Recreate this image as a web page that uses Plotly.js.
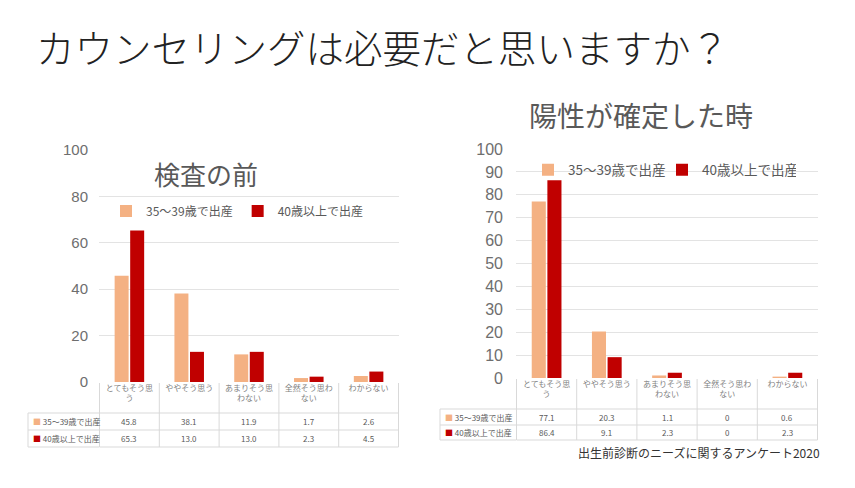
<!DOCTYPE html>
<html>
<head>
<meta charset="utf-8">
<script src="https://cdn.plot.ly/plotly-3.0.1.min.js"></script>
<style>html,body{margin:0;padding:0;background:#fff;}#chart{width:855px;height:488px;}</style>
</head>
<body>
<div id="chart"></div>
<script>
const categories = ['とてもそう思う','ややそう思う','あまりそう思わない','全然そう思わない','わからない'];
const tickLabels = ['とてもそう思<br>う','ややそう思う','あまりそう思<br>わない','全然そう思わ<br>ない','わからない'];
const seriesNames = ['35～39歳で出産','40歳以上で出産'];
const beforeYoung = [45.8, 38.1, 11.9, 1.7, 2.6];
const beforeOld = [65.3, 13.0, 13.0, 2.3, 4.5];
const positiveYoung = [77.1, 20.3, 1.1, 0, 0.6];
const positiveOld = [86.4, 9.1, 2.3, 0, 2.3];
const leftTicks = [0, 20, 40, 60, 80, 100];
const rightTicks = [0, 10, 20, 30, 40, 50, 60, 70, 80, 90, 100];

const mainTitle = 'カウンセリングは必要だと思いますか？';
const leftTitle = '検査の前';
const rightTitle = '陽性が確定した時';
const sourceText = '出生前診断のニーズに関するアンケート2020';

const ORANGE = '#F4B183', RED = '#C00000', GRAY = '#595959';
const FONT = '"Noto Sans CJK JP", "Noto Sans", sans-serif';
const W = 855, H = 488;
const px = x => x / W;
const py = y => 1 - y / H;

const traces = [
  {type:'bar', x:categories, y:beforeYoung, name:seriesNames[0], marker:{color:ORANGE}, xaxis:'x', yaxis:'y', legend:'legend', hoverinfo:'y'},
  {type:'bar', x:categories, y:beforeOld, name:seriesNames[1], marker:{color:RED}, xaxis:'x', yaxis:'y', legend:'legend', hoverinfo:'y'},
  {type:'bar', x:categories, y:positiveYoung, name:seriesNames[0], marker:{color:ORANGE}, xaxis:'x2', yaxis:'y2', legend:'legend2', hoverinfo:'y'},
  {type:'bar', x:categories, y:positiveOld, name:seriesNames[1], marker:{color:RED}, xaxis:'x2', yaxis:'y2', legend:'legend2', hoverinfo:'y'}
];

const fmt = v => v === 0 ? '0' : v.toFixed(1);
const annotations = [];
const shapes = [];
const LC = '#d9d9d9';

function addTable(xref, rows, rowYs, labelX, lineYs, topY, leftX, axisLeftX) {
  rows.forEach((r, ri) => {
    annotations.push({xref:'paper', yref:'paper', x:px(labelX), y:py(rowYs[ri]), xanchor:'left', yanchor:'middle', showarrow:false,
      text:'<span style="color:'+r.color+'">■</span> '+r.name, font:{family:FONT, size:8, color:GRAY}});
    categories.forEach((c, ci) => {
      annotations.push({xref:xref, yref:'paper', x:c, y:py(rowYs[ri]), xanchor:'center', yanchor:'middle', showarrow:false,
        text:fmt(r.values[ci]), font:{family:FONT, size:8, color:GRAY}});
    });
  });
  const last = lineYs[lineYs.length-1];
  lineYs.forEach(y => shapes.push({type:'line', xref:'paper', yref:'paper', x0:px(leftX), x1:px(axisLeftX), y0:py(y), y1:py(y), line:{color:LC, width:1}}));
  lineYs.forEach(y => shapes.push({type:'line', xref:xref, yref:'paper', x0:-0.5, x1:categories.length-0.5, y0:py(y), y1:py(y), line:{color:LC, width:1}}));
  for (let i = 0; i <= categories.length; i++) {
    shapes.push({type:'line', xref:xref, yref:'paper', x0:i-0.5, x1:i-0.5, y0:py(topY), y1:py(last), line:{color:LC, width:1}});
  }
  shapes.push({type:'line', xref:'paper', yref:'paper', x0:px(leftX), x1:px(leftX), y0:py(lineYs[0]), y1:py(last), line:{color:LC, width:1}});
}

const leftRows = [{name:seriesNames[0], color:ORANGE, values:beforeYoung},{name:seriesNames[1], color:RED, values:beforeOld}];
const rightRows = [{name:seriesNames[0], color:ORANGE, values:positiveYoung},{name:seriesNames[1], color:RED, values:positiveOld}];
addTable('x', leftRows, [421, 438], 31, [413, 430, 447], 383, 28, 99);
addTable('x2', rightRows, [417, 432], 443, [409, 425, 440], 379, 440, 516);

annotations.push({xref:'paper', yref:'paper', x:px(206), y:py(173), xanchor:'center', yanchor:'middle', showarrow:false, text:leftTitle, font:{family:FONT, size:26, color:GRAY}});
annotations.push({xref:'paper', yref:'paper', x:px(641), y:py(115), xanchor:'center', yanchor:'middle', showarrow:false, text:rightTitle, font:{family:FONT, size:28, color:GRAY}});
annotations.push({xref:'paper', yref:'paper', x:px(822), y:py(452), xanchor:'right', yanchor:'middle', showarrow:false, text:sourceText, font:{family:FONT, size:12, color:'#333333'}});

const yaxisBase = {
  range:[0,100], showgrid:true, gridcolor:'#e3e3e3', gridwidth:1, zeroline:false, showline:false,
  ticks:'', tickfont:{family:'"Liberation Sans", Arial, sans-serif', size:15, color:'#6e6e6e'}, fixedrange:true
};
const xaxisBase = {
  type:'category', showgrid:false, zeroline:false, showline:false, ticks:'',
  tickvals:categories, ticktext:tickLabels, tickangle:0,
  tickfont:{family:FONT, size:8, color:'#7f7f7f'}, fixedrange:true
};

const layout = {
  width:W, height:H,
  margin:{l:0, r:0, t:0, b:0},
  paper_bgcolor:'#ffffff', plot_bgcolor:'rgba(0,0,0,0)',
  title:{text:mainTitle, x:px(36), xanchor:'left', y:py(50), yanchor:'middle', font:{family:FONT, size:38.5, color:'#222222', weight:300}},
  barmode:'group', bargap:0.48, bargroupgap:0.1,
  xaxis:Object.assign({}, xaxisBase, {domain:[px(99), px(399)], anchor:'y'}),
  yaxis:Object.assign({}, yaxisBase, {domain:[py(382), py(150)], anchor:'x', tickvals:leftTicks, ticklabelstandoff:10}),
  xaxis2:Object.assign({}, xaxisBase, {domain:[px(516), px(818)], anchor:'y2'}),
  yaxis2:Object.assign({}, yaxisBase, {domain:[py(378), py(149)], anchor:'x2', tickvals:rightTicks, ticklabelstandoff:12, tickfont:{family:'"Liberation Sans", Arial, sans-serif', size:16, color:'#6e6e6e'}}),
  legend:{orientation:'h', x:px(106), y:py(211), xanchor:'left', yanchor:'middle', bgcolor:'rgba(0,0,0,0)', font:{family:FONT, size:12, color:GRAY}, itemwidth:30, traceorder:'normal'},
  legend2:{orientation:'h', x:px(528), y:py(170), xanchor:'left', yanchor:'middle', bgcolor:'rgba(0,0,0,0)', font:{family:FONT, size:13.5, color:GRAY}, itemwidth:30, traceorder:'normal', entrywidth:89, entrywidthmode:'pixels'},
  showlegend:true,
  annotations:annotations,
  shapes:shapes
};

Plotly.newPlot('chart', traces, layout, {displayModeBar:false, staticPlot:true});
</script>
</body>
</html>
